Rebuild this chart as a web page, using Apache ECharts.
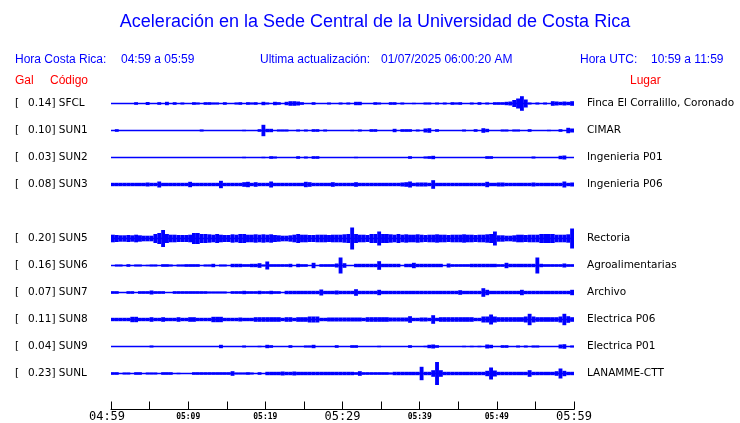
<!DOCTYPE html>
<html><head><meta charset="utf-8">
<script src="https://cdn.jsdelivr.net/npm/echarts@6/dist/echarts.min.js"></script>
<style>html,body{margin:0;padding:0;background:#fff}#c{width:740px;height:423px}</style>
</head><body><div id="c"></div>
<script>
// ---------------- data ----------------
const titleText = 'Aceleración en la Sede Central de la Universidad de Costa Rica';
const localRange = '04:59 a 05:59';
const utcRange = '10:59 a 11:59';
const lastUpdate = '01/07/2025 06:00:20 AM';

const stationCodes = ['SFCL','SUN1','SUN2','SUN3','SUN5','SUN6','SUN7','SUN8','SUN9','SUNL'];
const galValues    = [0.14, 0.10, 0.03, 0.08, 0.20, 0.16, 0.07, 0.11, 0.04, 0.23];
const places = ['Finca El Corralillo, Coronado','CIMAR','Ingenieria P01','Ingenieria P06',
  'Rectoria','Agroalimentarias','Archivo','Electrica P06','Electrica P01','LANAMME-CTT'];
const stationRows = [0,1,2,3,5,6,7,8,9,10];

// time axis (minutes after 04:59)
const tickMinutes = [0,10,20,30,40,50,60];
const tickLabels  = ['04:59','05:09','05:19','05:29','05:39','05:49','05:59'];
const majorLabels = ['04:59','05:29','05:59'];

// half-amplitude envelope per 30 s bin (120 bins = 60 min), relative units
const ampSFCL = [
 0,0,0,0,0,0,1.3,0,0,1.5,
 0,0,1.3,0,1.7,0,1.3,0,1,0,
 0,1.3,1,0,1.3,1.3,1,1,0,1.3,
 0,0,1,1.3,0,1.3,1,1.3,0,1.7,
 1,0,1.7,1.3,0,1.7,2.3,2.3,2,1.3,
 0,0,1.3,0,0,0,1,0,0,1,
 0,1,0,1.7,1.7,0,0,0,1.3,1,
 0,0,1.3,1.3,0,1,0,0,0.7,0,
 0,1,1,0,1,0,1,0,1.3,1,
 1.3,0,0,1,0,1.3,0,1,0,1.3,
 1.3,1.3,1.7,2,3.5,5,7.3,4,1,0,
 1,0,1,0,2.3,2,1.7,2,1.7,2.3];
const ampSUN1 = [
 0,1.3,0,0,0,0.5,0,0,0,0,
 0,0,0,0,0,0,0,0,0,0,
 0,0,0,1,0,0,0,0,0,0,
 0,0,0,0,0.7,0,0,0,1.3,5.7,
 1.7,1.7,0,1,1,1,0,0,1,0,
 1,0,1.3,1.3,0,1,0,0,0,0,
 0,0,0.7,0,1,0,0,1.3,1.3,0,
 0,0,0,1.7,0,1.3,1.3,1.3,0,1,
 0,2,2.3,0,1.3,0,0,0,0,0,
 0,1,0,0,1.3,0,2.3,1.7,0,0,
 0,1,1,0,1,1,0,0,1.3,0,
 0,0,0,0.7,0,0,1.3,0,2.7,2];
const ampSUN2 = [
 0,0,0,0,0,0,0,0,0,0,
 0,0,0,0,0,0,0,0,0,0,
 0,0,0,0,0,0,0,0,0,0,
 0,0,0,0,0.7,0,0,0,0,0.7,
 0,1.3,1,0,0,0,0,0,1.3,0,
 1,0,1.3,1.3,0,0,0,0,0,0,
 0,0,0,0.7,0,0,0,0,0,0,
 0,0,0,0,0,0,0,1.3,0,0,
 0,1,1.3,1.7,0,0,0,0,0,0,
 0,0,0,0,0,0,0,1.3,1.3,0,
 0,0,0,0,0,0,0,0,0,1,
 0,0,0,0,0,0,1.7,2,0,0];
const ampSUN3 = [
 1.7,1.7,1.7,1.7,1.7,1.7,1.7,1.7,1.7,2,
 1.7,1.7,3,1.7,1.7,1.7,1.7,1.7,1.7,1.7,
 2.7,1.7,1.7,1.7,1.7,1.7,1.7,1.7,3.7,1.7,
 1.7,1.7,1.7,1.7,2.3,2.7,1.7,2.3,1.7,1.7,
 1.7,3,1.7,1.7,1.7,1.7,1.7,1.7,1.7,1.7,
 2.7,2.3,1.7,1.7,1.7,1.7,1.7,2.3,1.7,1.7,
 1.7,1.7,1.7,2.3,1.7,1.7,1.7,1.7,1.7,1.7,
 1.7,1.7,1.7,1.7,1.7,2,2.3,3,1.7,2,
 2,2,1.7,4.3,1.7,1.7,1.7,1.7,1.7,1.7,
 1.7,1.7,1.7,1.7,1.7,1.7,1.7,2.7,1.7,1.7,
 2,2,1.7,1.7,1.7,1.7,1.7,1.7,1.7,2,
 1.7,1.7,1.7,1.7,1.7,1.7,1.7,3,1.7,2];
const ampSUN5 = [
 3.8,3.5,3.2,3.2,3.5,3.2,3.8,3.2,2.8,2.8,
 2.8,4.5,5.5,8.5,4.5,3.8,3.8,3.5,3.5,3.5,
 3.8,5.5,5.5,4.5,4.5,4.2,3.8,4.5,3.8,3.5,
 3.5,4.2,3.8,4.5,4.5,3.8,3.8,4.2,3.8,4.2,
 3.8,4.2,3.5,3.2,2.8,2.8,3.2,3.8,4.5,3.8,
 3.8,3.5,3.5,3.8,3.8,3.8,3.5,3.8,3.8,3.8,
 4.2,4.5,11,4.5,3.8,3.8,3.5,4.5,4.5,7,
 4.5,4.5,4.2,3.8,4.5,3.8,4.2,3.8,3.8,4.2,
 3.8,3.5,3.8,3.8,4.2,3.8,3.8,3.5,3.8,3.8,
 3.8,4.2,3.8,3.8,3.5,3.8,3.8,4.2,4.5,7,
 3.2,3.2,2.8,2.8,3.2,3.8,3.8,3.5,3.8,3.8,
 3.8,4.5,4.5,4.5,4.5,3.8,3.8,3.8,4.2,10];
const ampSUN6 = [
 0,1,1,0,1.3,0,1,1,0,0.7,
 1,1,0,1.3,1.3,1,0,1,1,1.3,
 1.3,1.3,1.3,0,1,1,1.7,0,1,1,
 0,1.7,1.7,1.7,1.3,1.3,1.7,1.7,2.3,1,
 4,1.3,1.3,1.3,1.3,1.3,1.7,0,1.7,1.3,
 1.3,0,2.7,0,1.3,1.3,1.3,1.3,2,8,
 2.3,0,0,1.7,1.7,1.7,1.7,1.7,1.7,4.3,
 1.7,1.7,1.7,1.7,1.7,0,1.7,1.7,2.7,1.7,
 1.7,1.7,1.7,1.7,1.7,1.7,0,2,1.3,1.3,
 1.3,1.3,1.3,1.7,1.7,1.7,1.7,1.7,1.7,1.7,
 1.3,1.3,2.7,1.7,1.7,1.7,1.7,1.7,1.7,1.7,
 8,1.7,1.3,1.3,1.3,1.3,1.3,2,1.3,1.3];
const ampSUN7 = [
 1.3,1.3,0,0,1.3,1.3,0,1.3,1.3,1.3,
 2,1.3,1.3,1.3,0,0,1.3,1.3,1.3,1.3,
 1.3,1.3,1.3,1.3,1.3,1,1,1,1,1,
 0,1.3,1.3,1.3,1.7,1.3,1.3,1.3,1.7,1.3,
 1.3,1.7,1.3,1.3,0,1.7,1.7,1.7,1.7,1.7,
 1.7,1.7,1.7,1.7,3,1.7,1.7,1.7,2,1.7,
 1.7,1.7,1.7,3.3,1.7,1.7,1.7,1.7,1.7,2.7,
 1.7,1.7,1.7,1.7,1.7,1.7,1.7,1.7,1.7,1.7,
 1.7,1.7,1.7,1.7,1.7,1.7,1.7,1.7,1.7,1.7,
 2.3,1.7,1.7,1.7,1.7,1.7,4.3,2.7,1.7,1.7,
 1.7,1.7,1.7,1.7,1.7,1.7,2.7,1.7,1.7,1.7,
 1.7,1.7,1.7,1.7,1.7,1.7,1.7,1.7,1.7,2.7];
const ampSUN8 = [
 1.7,1.7,1.7,1.7,1.7,2.7,2.7,1.7,1.7,1.7,
 2.3,1.7,1.7,2.3,1.7,1.7,1.7,2.3,1.7,1.7,
 2.3,2.3,1.7,1.7,1.7,1.7,2.7,2.7,2.7,1.7,
 1.7,1.7,1.7,2,1.7,1.7,1.7,2.3,2.3,2.3,
 2.3,2.3,2.3,2.3,1.7,2.3,2.3,1.7,2.3,2.3,
 2.3,3,3,3,1.7,1.7,2,2,2,2,
 2,2,2,2,2,1.7,2.3,2.3,2.3,2.3,
 2.3,2.3,2,2,2,2,2,3.3,1.7,1.7,
 2,2,1.7,4.3,1.7,2.3,2.3,2.3,2.3,2.3,
 2.3,2.3,2.3,2.3,1.7,1.7,3,3,5,3,
 2.3,2.3,2.3,2.3,2.3,2.3,2.3,3,5.7,3,
 2.3,2.3,2.3,2.3,2.3,2.3,3,5.7,3.3,2.3];
const ampSUN9 = [
 0,0,0,0,0,0,0,0,0,0,
 1,0,0,0,0,0,0,0,0,0,
 0,0,0,0,0,0,0,0,1.7,0,
 0,0,0,0,1,0,0,0,0.7,0,
 1.7,1.3,0,0,0,0,1.3,0,0,0,
 1,1,1.7,0,0,0,0,0,1.3,0,
 0,0,1.3,1.3,0,0,0,0,0,0.7,
 0,0,0,0,0,0,0,1.3,0,0,
 0,0.7,1.7,2,1.3,0,0,0,0,0,
 0,0.7,0,0.7,0,0.7,0,2,1.7,0,
 0,1.3,1.3,0,0,1,0,1,0,1,
 1,0,0,0,0,0,2,2.3,0,1];
const ampSUNL = [
 1.3,1.3,0,1,1,0,1.3,1.3,0,1,
 1,1,0,1.3,1.3,1.3,0,0.7,0,0,
 0,1.3,1.3,1.3,1.3,1.3,1.3,1.3,1.3,1.3,
 1.3,2.3,1,1,1,1.3,1,0,1.3,0,
 1.7,1.7,1.7,1.7,2,1.7,1.7,2,1.7,1.7,
 1.7,1.7,1.7,1.7,1.7,1.7,1.7,1.7,1.7,1.7,
 1.7,1.7,1.7,1.3,2.3,1.3,1.3,1.3,1.3,1.3,
 1.3,1.3,1,1.7,1.7,1.7,1.7,1.7,1.7,1.7,
 6.7,1.7,1.7,3.3,11.5,3.3,1.7,1.7,1.7,1.7,
 1.7,1.7,1.7,1.7,1.7,1.7,1.7,2.7,6,3,
 1.7,1.7,1.7,1.7,1.7,1.7,1.7,1.7,3.3,1.7,
 1.7,1.7,1.7,1.7,1.7,2.3,5,2.7,1.7,1.7];
const envelopes = [ampSFCL, ampSUN1, ampSUN2, ampSUN3, ampSUN5, ampSUN6, ampSUN7, ampSUN8, ampSUN9, ampSUNL];

// ---------------- chart ----------------
const BIN = 0.5;          // minutes per envelope bin
const AMP_TO_ROW = 1/27;  // envelope unit -> row units
const BLUE = '#0000ff', RED = '#ff0000';

const chart = echarts.init(document.getElementById('c'), null, {renderer: 'canvas'});

const series = [];
stationCodes.forEach((code, i) => {
  const row = stationRows[i];
  series.push({
    type: 'line', name: code + '_base', silent: true, symbol: 'none',
    data: [[0, row], [60, row]],
    lineStyle: {color: BLUE, width: 1.5}, z: 2
  });
});
const binData = [];
envelopes.forEach((env, i) => {
  env.forEach((a, k) => { if (a > 0) binData.push([k * BIN, stationRows[i], a]); });
});
series.push({
  type: 'custom', silent: true, z: 3,
  data: binData,
  encode: {x: 0, y: 1},
  renderItem: (params, api) => {
    const t = api.value(0), row = api.value(1), a = api.value(2) * AMP_TO_ROW;
    const p0 = api.coord([t, row - a]);
    const p1 = api.coord([t + BIN, row + a]);
    return {
      type: 'rect',
      shape: {x: p0[0], y: Math.min(p0[1], p1[1]), width: p1[0] - p0[0], height: Math.abs(p1[1] - p0[1])},
      style: {fill: BLUE}
    };
  }
});

chart.setOption({
  animation: false,
  backgroundColor: '#ffffff',
  grid: {left: 111, width: 463, top: 90, height: 319.5},
  xAxis: {
    type: 'value', min: 0, max: 60, interval: 5,
    axisLine: {show: true, onZero: false, lineStyle: {color: '#000', width: 1}},
    axisTick: {show: true, inside: true, length: 8, lineStyle: {color: '#000', width: 1}},
    splitLine: {show: false},
    axisLabel: {
      show: true, margin: 0, showMinLabel: true, showMaxLabel: true,
      formatter: v => {
        const idx = tickMinutes.indexOf(v);
        if (idx < 0) return '';
        const s = tickLabels[idx];
        if (idx === 0) return '{first|' + s + '}';
        return majorLabels.includes(s) ? '{big|' + s + '}' : '{small|' + s + '}';
      },
      rich: {
        first: {fontFamily: 'DejaVu Sans Mono', fontSize: 12, color: '#000', lineHeight: 14, padding: [0, 8, 0, 0]},
        big: {fontFamily: 'DejaVu Sans Mono', fontSize: 12, color: '#000', lineHeight: 14},
        small: {fontFamily: 'DejaVu Sans Mono', fontSize: 8, fontWeight: 'bold', color: '#000', lineHeight: 14}
      }
    }
  },
  yAxis: {type: 'value', inverse: true, min: -0.5, max: 34/3, show: false},
  series: series
});

// text elements
const g = [];
function txt(text, x, y, font, fill, align) {
  g.push({type: 'text', silent: true, x: x, y: y,
    style: {text: text, font: font, fill: fill, textAlign: align || 'left', textVerticalAlign: 'middle',
            align: align || 'left', verticalAlign: 'middle'}});
}
txt(titleText, 375, 22, '18px "Liberation Sans", Arial, sans-serif', BLUE, 'center');
const hdr = '12px "Liberation Sans", Arial, sans-serif';
txt('Hora Costa Rica:', 15, 60, hdr, BLUE);
txt(localRange, 121, 60, hdr, BLUE);
txt('Ultima actualización:', 260, 60, hdr, BLUE);
txt(lastUpdate, 381, 60, hdr, BLUE);
txt('Hora UTC:', 580, 60, hdr, BLUE);
txt(utcRange, 651, 60, hdr, BLUE);
txt('Gal', 15, 80.5, hdr, RED);
txt('Código', 50, 80.5, hdr, RED);
txt('Lugar', 630, 80.5, hdr, RED);

const lbl = '10.5px "DejaVu Sans", sans-serif';
stationCodes.forEach((code, i) => {
  const y = chart.convertToPixel({gridIndex: 0}, [0, stationRows[i]])[1];
  txt('[', 15, y, lbl, '#000');
  txt(galValues[i].toFixed(2) + '] ' + code, 28, y, lbl, '#000');
  txt(places[i], 587, y, lbl, '#000');
});
chart.setOption({graphic: {elements: g}});
</script>
</body></html>
